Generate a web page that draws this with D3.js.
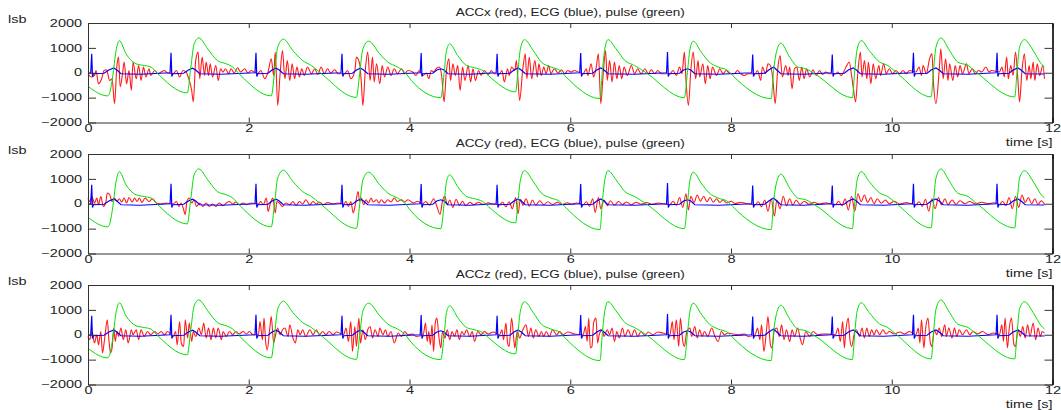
<!DOCTYPE html>
<html>
<head>
<meta charset="utf-8">
<script src="https://cdn.jsdelivr.net/npm/d3@7"></script>
<style>
  body { margin: 0; background: #fff; }
  svg text { font-family: "Liberation Sans", Arial, sans-serif; }
</style>
</head>
<body>
<svg id="chart" width="1061" height="410"></svg>
<script>
const xTicks = [0, 2, 4, 6, 8, 10, 12];
const yTicks = [-2000, -1000, 0, 1000, 2000];
const titles = ["ACCx (red), ECG (blue), pulse (green)", "ACCy (red), ECG (blue), pulse (green)", "ACCz (red), ECG (blue), pulse (green)"];

// pulse (green), [time s, lsb]
const pulse = [[0,-550],[0.245,-930],[0.266,-840],[0.307,-170],[0.349,890],[0.39,1290],[0.473,760],[0.598,360],[0.70,290],[0.784,230],[0.846,30],[1.235,-810],[1.28,230],[1.32,1160],[1.378,1400],[1.49,960],[1.61,490],[1.72,360],[1.80,230],[1.88,-40],[2.28,-930],[2.32,-40],[2.36,1030],[2.43,1350],[2.55,890],[2.67,490],[2.78,290],[2.88,30],[3.34,-990],[3.38,-40],[3.42,960],[3.49,1270],[3.63,760],[3.73,430],[3.85,230],[3.94,30],[4.02,-300],[4.39,-1000],[4.43,-40],[4.46,890],[4.50,1160],[4.60,690],[4.71,290],[4.81,200],[4.91,90],[4.98,-110],[5.32,-770],[5.35,90],[5.38,960],[5.43,1330],[5.54,890],[5.64,430],[5.76,230],[5.87,90],[5.93,-110],[6.37,-1040],[6.40,90],[6.43,960],[6.47,1330],[6.57,960],[6.68,490],[6.80,290],[6.93,30],[7.42,-1000],[7.46,90],[7.49,960],[7.53,1270],[7.63,830],[7.73,430],[7.84,230],[7.96,90],[8.02,-110],[8.50,-1040],[8.53,90],[8.57,890],[8.62,1190],[8.73,630],[8.83,230],[8.93,160],[9.04,-40],[9.51,-1000],[9.54,90],[9.57,960],[9.62,1290],[9.72,890],[9.85,430],[9.95,290],[10.05,30],[10.49,-970],[10.52,90],[10.55,1030],[10.61,1400],[10.72,890],[10.82,430],[10.95,290],[11.05,30],[11.53,-970],[11.56,90],[11.59,1030],[11.65,1330],[11.76,890],[11.86,360],[11.90,230]];

// ECG (blue)
const ecg = [[0,-20],[0.034,0],[0.046,760],[0.056,-150],[0.068,-40],[0.2,-20],[0.26,110],[0.32,190],[0.36,110],[0.41,-40],[0.65,-60],
  [1.021,0],[1.033,800],[1.043,-150],[1.055,-40],[1.19,-20],[1.25,110],[1.30,180],[1.34,110],[1.39,-40],[1.65,-60],
  [2.078,0],[2.09,800],[2.10,-150],[2.112,-40],[2.24,-20],[2.29,110],[2.34,180],[2.38,110],[2.43,-40],[2.7,-60],
  [3.148,0],[3.16,760],[3.17,-150],[3.182,-40],[3.29,-20],[3.34,110],[3.39,180],[3.43,110],[3.48,-40],[3.75,-60],
  [4.133,0],[4.145,790],[4.155,-150],[4.167,-40],[4.29,-20],[4.34,110],[4.39,160],[4.43,110],[4.48,-40],[4.75,-60],
  [5.078,0],[5.09,760],[5.10,-150],[5.112,-40],[5.25,-20],[5.30,110],[5.35,190],[5.39,110],[5.44,-40],[5.75,-60],
  [6.118,0],[6.13,790],[6.14,-150],[6.152,-40],[6.28,-20],[6.33,110],[6.38,190],[6.42,110],[6.47,-40],[6.8,-60],
  [7.198,0],[7.21,830],[7.22,-150],[7.232,-40],[7.36,-20],[7.41,110],[7.46,160],[7.50,110],[7.55,-40],[7.85,-60],
  [8.258,0],[8.27,730],[8.28,-150],[8.292,-40],[8.42,-20],[8.47,110],[8.53,230],[8.57,110],[8.62,-40],[8.9,-60],
  [9.248,0],[9.26,730],[9.27,-150],[9.282,-40],[9.41,-20],[9.46,110],[9.52,190],[9.56,110],[9.61,-40],[9.9,-60],
  [10.258,0],[10.27,800],[10.28,-150],[10.292,-40],[10.44,-20],[10.49,110],[10.55,190],[10.59,110],[10.64,-40],[10.95,-60],
  [11.298,0],[11.31,800],[11.32,-150],[11.332,-40],[11.46,-20],[11.51,110],[11.57,190],[11.61,110],[11.66,-40],[11.9,-50]];

// ACCx (red)
const accX = [[0.00,-40],[0.04,-170],[0.08,-110],[0.10,90],[0.13,-440],[0.17,-240],[0.20,90],[0.23,120],[0.27,-310],[0.30,-240],[0.33,-1240],[0.36,290],[0.38,630],[0.40,-570],[0.43,-40],[0.45,430],[0.48,-440],[0.51,90],[0.54,-710],[0.56,430],[0.60,-240],[0.63,290],[0.66,-310],[0.69,230],[0.72,-170],[0.76,160],[0.78,-110],[0.83,90],[0.87,-40],[0.91,30],[0.95,90],[0.99,-10],
  [1.06,-40],[1.10,90],[1.14,-170],[1.18,90],[1.22,30],[1.26,-310],[1.29,-710],[1.31,-1170],[1.34,490],[1.37,830],[1.39,-240],[1.42,630],[1.45,-110],[1.47,430],[1.50,-110],[1.52,360],[1.55,-170],[1.59,290],[1.62,-310],[1.65,160],[1.68,30],[1.71,160],[1.75,-40],[1.78,160],[1.82,-10],[1.86,200],[1.90,30],[1.95,160],[1.99,-10],[2.03,90],
  [2.11,-40],[2.15,90],[2.20,-240],[2.24,30],[2.28,560],[2.31,-110],[2.33,830],[2.36,-1310],[2.39,-40],[2.42,890],[2.45,-240],[2.48,490],[2.51,-310],[2.54,360],[2.57,-240],[2.60,230],[2.63,-170],[2.66,160],[2.69,-110],[2.73,230],[2.78,-40],[2.82,160],[2.86,-70],[2.90,230],[2.94,-40],[2.98,160],[3.02,-10],[3.07,120],[3.11,-40],
  [3.19,-40],[3.23,90],[3.27,-240],[3.32,90],[3.34,630],[3.38,360],[3.40,-370],[3.42,-1310],[3.45,90],[3.48,830],[3.51,-310],[3.54,630],[3.56,-370],[3.59,360],[3.63,-440],[3.66,290],[3.69,-170],[3.73,230],[3.77,-110],[3.81,160],[3.85,-40],[3.90,160],[3.94,-40],[3.98,90],
  [4.04,30],[4.08,-110],[4.12,90],[4.17,-110],[4.21,-10],[4.24,-240],[4.27,90],[4.30,30],[4.33,160],[4.37,230],[4.40,-110],[4.43,-1170],[4.46,90],[4.49,560],[4.51,-310],[4.54,360],[4.57,-110],[4.60,290],[4.63,-710],[4.66,230],[4.69,-310],[4.73,290],[4.76,-370],[4.79,160],[4.82,-310],[4.86,90],[4.89,-110],[4.93,90],[4.98,-70],[5.02,90],[5.05,-40],
  [5.12,-40],[5.15,90],[5.18,-370],[5.22,160],[5.24,-110],[5.27,230],[5.31,90],[5.33,490],[5.35,-310],[5.37,-1110],[5.41,160],[5.44,760],[5.46,-240],[5.49,630],[5.52,-240],[5.56,490],[5.59,-170],[5.61,360],[5.64,-110],[5.67,230],[5.70,-40],[5.73,290],[5.76,-40],[5.80,160],[5.85,-10],[5.89,120],[5.93,-40],[5.97,90],[6.01,30],[6.05,90],
  [6.16,-40],[6.20,160],[6.22,-110],[6.26,360],[6.29,-170],[6.32,160],[6.35,760],[6.38,-1240],[6.41,-40],[6.44,890],[6.46,-310],[6.49,490],[6.52,-370],[6.55,430],[6.58,-240],[6.61,290],[6.64,-240],[6.67,230],[6.71,-110],[6.76,290],[6.80,-40],[6.84,160],[6.88,-40],[6.93,160],[6.97,-40],[7.01,120],[7.05,-40],[7.09,90],[7.13,-40],
  [7.24,-40],[7.28,90],[7.32,-110],[7.36,230],[7.39,-40],[7.42,830],[7.44,-310],[7.47,-1310],[7.50,90],[7.53,830],[7.56,-240],[7.59,490],[7.61,-170],[7.65,360],[7.68,-440],[7.71,290],[7.74,-240],[7.77,230],[7.82,-110],[7.86,160],[7.90,-40],[7.94,90],[7.98,-10],
  [8.04,-40],[8.08,90],[8.12,-40],[8.17,-110],[8.21,-40],
  [8.30,-40],[8.33,90],[8.37,-310],[8.39,230],[8.43,-40],[8.46,360],[8.49,290],[8.52,-240],[8.55,-1240],[8.58,90],[8.61,690],[8.64,-170],[8.68,290],[8.71,-110],[8.73,230],[8.76,-640],[8.79,160],[8.82,230],[8.85,-310],[8.88,230],[8.91,-240],[8.94,160],[8.98,-170],[9.02,120],[9.06,-110],[9.10,90],[9.14,-70],[9.18,30],[9.22,-40],
  [9.30,-40],[9.33,30],[9.37,-110],[9.41,90],[9.44,290],[9.47,430],[9.50,-110],[9.52,-570],[9.55,-1170],[9.58,90],[9.61,830],[9.63,-170],[9.66,490],[9.69,-240],[9.71,430],[9.74,-440],[9.77,360],[9.80,-240],[9.84,290],[9.86,-110],[9.90,360],[9.93,-40],[9.97,160],[10.01,-40],[10.05,90],[10.10,-40],[10.14,90],[10.18,-40],[10.22,90],
  [10.30,30],[10.34,230],[10.37,-110],[10.39,290],[10.43,-40],[10.47,560],[10.50,760],[10.52,-440],[10.55,-1240],[10.59,90],[10.61,960],[10.64,-240],[10.67,560],[10.70,-310],[10.72,360],[10.76,-310],[10.79,290],[10.82,-170],[10.85,290],[10.88,-40],[10.93,360],[10.96,-40],[11.00,160],[11.04,-40],[11.08,90],[11.12,30],[11.17,230],[11.21,30],[11.24,90],
  [11.34,30],[11.37,230],[11.40,-170],[11.43,630],[11.45,-240],[11.48,290],[11.51,-110],[11.54,830],[11.57,-310],[11.59,-1170],[11.62,90],[11.65,760],[11.68,-310],[11.71,290],[11.73,-240],[11.76,430],[11.78,-310],[11.81,360],[11.84,-110],[11.88,290],[11.90,-240]];

// ACCy (red)
const accY = [[0.00,230],[0.02,90],[0.05,290],[0.08,30],[0.11,230],[0.13,-40],[0.16,290],[0.19,-110],[0.22,30],[0.24,430],[0.27,360],[0.30,90],[0.33,230],[0.36,90],[0.39,200],[0.42,70],[0.45,230],[0.48,30],[0.51,250],[0.55,70],[0.58,230],[0.61,90],[0.64,230],[0.67,50],[0.71,230],[0.76,90],[0.80,200],[0.85,30],[0.91,-10],[0.97,30],
  [1.06,-10],[1.10,90],[1.13,-110],[1.16,30],[1.19,-240],[1.21,-440],[1.23,90],[1.26,230],[1.29,30],[1.32,160],[1.35,-110],[1.39,30],[1.43,-110],[1.47,30],[1.51,-110],[1.55,-10],[1.59,-110],[1.63,30],[1.68,-70],[1.72,30],[1.76,90],[1.80,-10],[1.84,70],[1.88,-40],[1.93,30],[1.97,-40],[2.03,30],
  [2.12,-10],[2.15,90],[2.18,-40],[2.22,230],[2.24,-310],[2.27,30],[2.30,230],[2.33,-370],[2.35,90],[2.38,30],[2.42,-110],[2.46,30],[2.51,-40],[2.55,90],[2.59,-70],[2.63,90],[2.67,-10],[2.71,160],[2.76,-40],[2.80,90],[2.84,-10],[2.88,70],[2.93,-40],[2.98,50],[3.05,-10],[3.11,30],
  [3.18,-10],[3.21,90],[3.24,-110],[3.27,90],[3.30,-370],[3.33,30],[3.36,490],[3.38,90],[3.40,230],[3.43,-40],[3.46,160],[3.49,30],[3.52,230],[3.55,70],[3.59,160],[3.62,30],[3.65,160],[3.69,30],[3.73,160],[3.77,70],[3.81,230],[3.85,90],[3.90,160],[3.94,70],[3.98,160],
  [4.05,30],[4.10,100],[4.16,-20],[4.20,90],[4.25,-60],[4.30,200],[4.34,-100],[4.38,-430],[4.41,100],[4.44,300],[4.47,-50],[4.50,150],[4.54,-150],[4.58,180],[4.62,-60],[4.66,100],[4.70,-80],[4.75,60],[4.80,-40],[4.86,60],[4.92,-30],[4.98,40],[5.04,-20],
  [5.12,-30],[5.16,60],[5.20,-120],[5.24,80],[5.28,-200],[5.32,250],[5.35,-400],[5.38,180],[5.41,-60],[5.45,200],[5.49,-100],[5.53,150],[5.57,-60],[5.62,120],[5.67,-40],[5.72,80],[5.78,-30],[5.84,60],[5.90,-30],[5.96,40],[6.02,-20],[6.08,30],
  [6.16,-40],[6.20,80],[6.24,-100],[6.28,200],[6.31,-350],[6.35,250],[6.38,-200],[6.42,150],[6.46,-80],[6.50,120],[6.55,-60],[6.60,90],[6.65,-30],[6.70,70],[6.76,-40],[6.82,60],[6.88,-20],[6.95,50],[7.02,-20],[7.10,30],[7.16,-10],
  [7.24,-30],[7.28,100],[7.32,-60],[7.36,250],[7.40,-150],[7.44,400],[7.47,-250],[7.50,300],[7.54,50],[7.58,350],[7.62,100],[7.66,300],[7.70,80],[7.74,250],[7.78,60],[7.82,200],[7.86,50],[7.90,150],[7.95,30],[8.00,100],[8.05,10],[8.12,60],[8.20,0],
  [8.30,-40],[8.34,80],[8.38,-120],[8.42,150],[8.46,-300],[8.50,200],[8.54,-500],[8.57,150],[8.61,-200],[8.65,300],[8.69,-80],[8.73,200],[8.77,-60],[8.81,150],[8.86,-30],[8.91,100],[8.97,-20],[9.03,60],[9.10,-10],[9.18,40],[9.24,-10],
  [9.30,-30],[9.34,100],[9.38,-80],[9.42,200],[9.46,-250],[9.50,300],[9.54,-300],[9.58,400],[9.62,80],[9.66,350],[9.70,50],[9.74,250],[9.78,0],[9.82,200],[9.87,20],[9.92,150],[9.97,0],[10.03,100],[10.10,-10],[10.18,50],[10.24,0],
  [10.30,-30],[10.34,80],[10.38,-100],[10.42,180],[10.46,-300],[10.50,200],[10.54,-200],[10.58,250],[10.62,-50],[10.66,200],[10.70,-40],[10.75,150],[10.80,-20],[10.85,120],[10.91,0],[10.97,90],[11.04,-10],[11.12,60],[11.20,0],[11.27,40],
  [11.34,-30],[11.38,100],[11.42,-80],[11.46,250],[11.50,-200],[11.54,300],[11.58,-150],[11.62,350],[11.66,50],[11.70,250],[11.74,0],[11.78,200],[11.82,-30],[11.86,120],[11.90,-20]];

// ACCz (red)
const accZ = [[0.00,-70],[0.02,-200],[0.05,130],[0.08,-330],[0.11,0],[0.13,-400],[0.16,130],[0.18,-730],[0.21,-70],[0.24,600],[0.26,-200],[0.28,-730],[0.30,-530],[0.32,270],[0.34,-270],[0.36,130],[0.38,-70],[0.41,270],[0.44,-200],[0.47,200],[0.50,-330],[0.54,200],[0.56,0],[0.60,200],[0.63,-200],[0.66,200],[0.70,-70],[0.74,130],[0.78,0],[0.83,130],[0.87,30],[0.91,130],[0.95,0],[0.99,130],
  [1.06,-70],[1.09,130],[1.11,-400],[1.14,530],[1.16,-330],[1.19,-470],[1.21,600],[1.24,-130],[1.26,470],[1.29,-270],[1.31,130],[1.34,-70],[1.38,270],[1.41,0],[1.44,470],[1.47,-130],[1.50,270],[1.53,-200],[1.56,270],[1.59,-130],[1.62,270],[1.66,-200],[1.68,130],[1.72,-70],[1.76,130],[1.80,0],[1.84,130],[1.88,30],[1.93,130],[1.97,30],[2.01,130],[2.05,0],
  [2.12,0],[2.14,530],[2.17,-200],[2.19,670],[2.21,-270],[2.23,-600],[2.26,200],[2.28,730],[2.31,-330],[2.33,-70],[2.36,270],[2.39,0],[2.42,200],[2.45,270],[2.49,-70],[2.51,400],[2.55,-130],[2.58,-330],[2.61,200],[2.64,0],[2.67,200],[2.71,-70],[2.76,200],[2.80,0],[2.84,200],[2.88,0],[2.92,130],[2.96,0],[3.00,130],[3.05,0],[3.09,110],
  [3.18,0],[3.21,270],[3.24,-270],[3.27,530],[3.29,-670],[3.32,330],[3.34,-470],[3.37,670],[3.39,-330],[3.42,200],[3.45,-200],[3.48,200],[3.51,330],[3.54,-130],[3.57,200],[3.61,-70],[3.63,270],[3.67,0],[3.70,200],[3.73,-70],[3.77,130],[3.81,-330],[3.86,70],[3.90,-70],[3.94,130],[3.98,0],
  [4.04,30],[4.08,-70],
  [4.17,0],[4.20,470],[4.22,-270],[4.24,130],[4.26,-400],[4.28,400],[4.30,-670],[4.32,470],[4.34,670],[4.37,-200],[4.39,-530],[4.41,130],[4.44,-130],[4.47,200],[4.50,-200],[4.53,130],[4.56,-70],[4.59,200],[4.62,-200],[4.65,130],[4.68,0],[4.71,200],[4.75,-70],[4.78,130],[4.81,-270],[4.85,130],[4.89,0],[4.93,130],[4.98,30],[5.04,110],
  [5.12,0],[5.15,200],[5.17,-200],[5.20,470],[5.22,-330],[5.24,-470],[5.27,670],[5.30,-270],[5.31,-530],[5.34,130],[5.37,-130],[5.41,200],[5.45,400],[5.48,-70],[5.51,270],[5.54,-130],[5.57,200],[5.61,-70],[5.64,130],[5.67,-70],[5.70,130],[5.74,-70],[5.78,200],[5.83,0],[5.87,130],[5.91,0],[5.97,110],[6.05,30],
  [6.16,0],[6.19,330],[6.21,-270],[6.23,670],[6.25,-530],[6.27,-470],[6.29,470],[6.32,670],[6.34,-330],[6.36,0],[6.40,200],[6.42,-70],[6.46,200],[6.49,0],[6.52,270],[6.55,-270],[6.58,130],[6.61,-130],[6.65,270],[6.68,-70],[6.72,200],[6.76,-70],[6.80,200],[6.84,-70],[6.88,130],[6.93,-30],[6.97,110],[7.03,0],[7.09,110],[7.15,70],
  [7.24,0],[7.27,530],[7.29,-200],[7.32,600],[7.35,-470],[7.37,670],[7.40,-270],[7.42,-470],[7.45,130],[7.49,270],[7.51,-70],[7.55,330],[7.58,-130],[7.61,200],[7.64,-70],[7.67,130],[7.71,-70],[7.76,270],[7.80,-70],[7.84,-270],[7.88,130],[7.92,0],[7.96,70],[8.02,30],
  [8.10,0],[8.17,30],[8.21,-70],
  [8.30,0],[8.33,270],[8.36,-200],[8.38,400],[8.41,-670],[8.44,130],[8.46,730],[8.49,-400],[8.51,-530],[8.54,200],[8.57,270],[8.60,-70],[8.63,400],[8.66,-200],[8.69,200],[8.73,-270],[8.76,200],[8.79,-70],[8.83,270],[8.86,-130],[8.89,-400],[8.93,130],[8.98,-70],[9.02,130],[9.08,0],[9.14,30],[9.20,30],
  [9.30,0],[9.33,270],[9.36,-270],[9.39,530],[9.41,-530],[9.43,200],[9.46,670],[9.48,-200],[9.50,-470],[9.54,130],[9.56,200],[9.60,-70],[9.63,270],[9.66,-130],[9.69,270],[9.72,-70],[9.75,200],[9.78,0],[9.81,200],[9.85,0],[9.89,200],[9.93,30],[9.97,130],[10.03,30],[10.10,110],[10.16,30],[10.22,130],
  [10.30,0],[10.33,270],[10.35,-330],[10.37,600],[10.40,-530],[10.42,200],[10.45,670],[10.48,-330],[10.50,-470],[10.53,200],[10.56,0],[10.59,270],[10.62,-70],[10.66,400],[10.68,-70],[10.71,270],[10.75,-130],[10.78,270],[10.81,-70],[10.84,200],[10.88,0],[10.93,200],[10.97,0],[11.01,130],[11.07,30],[11.13,130],[11.20,0],[11.26,70],
  [11.34,0],[11.37,400],[11.39,-270],[11.41,670],[11.44,-530],[11.46,200],[11.49,670],[11.52,-400],[11.54,-470],[11.57,200],[11.60,-70],[11.63,330],[11.66,-130],[11.69,400],[11.72,-70],[11.76,470],[11.79,-200],[11.82,270],[11.85,-70],[11.87,130],[11.90,70]];

const accs = [accX, accY, accZ];

const left = 88, right = 1052.5, plotH = 99.5;
const tops = [23, 154, 285];
const sx = 1.45; // reference text is stretched horizontally

const svg = d3.select("#chart");
const x = d3.scaleLinear().domain([0, 12]).range([left, right]);

accs.forEach((acc, i) => {
    const top = tops[i];
    const y = d3.scaleLinear().domain([-2000, 2000]).range([top + plotH, top]);
    const line = d3.line().x(d => x(d[0])).y(d => y(d[1]));
    const smooth = d3.line().x(d => x(d[0])).y(d => y(d[1])).curve(d3.curveMonotoneX);
    const g = svg.append("g");

    g.append("path").datum(acc)
        .attr("fill", "none").attr("stroke", "#ff1a1a").attr("stroke-width", 1.1)
        .attr("d", smooth);
    g.append("path").datum(ecg)
        .attr("fill", "none").attr("stroke", "#0000ff").attr("stroke-width", 1.2)
        .attr("d", line);
    g.append("path").datum(pulse)
        .attr("fill", "none").attr("stroke", "#00e000").attr("stroke-width", 1)
        .attr("d", smooth);

    // frame + ticks pointing inwards
    const axes = [
        g.append("g").attr("transform", `translate(0,${top + plotH})`)
            .call(d3.axisBottom(x).tickValues(xTicks).tickSizeInner(-5).tickSizeOuter(0).tickPadding(2)),
        g.append("g").attr("transform", `translate(0,${top})`)
            .call(d3.axisTop(x).tickValues(xTicks).tickSizeInner(-5).tickSizeOuter(0).tickFormat("")),
        g.append("g").attr("transform", `translate(${left},0)`)
            .call(d3.axisLeft(y).tickValues(yTicks).tickFormat(d3.format("d")).tickSizeInner(-8).tickSizeOuter(0).tickPadding(4.1)),
        g.append("g").attr("transform", `translate(${right},0)`)
            .call(d3.axisRight(y).tickValues(yTicks).tickSizeInner(-8).tickSizeOuter(0).tickFormat(""))
    ];
    axes.forEach(a => {
        a.attr("color", "#333").attr("font-family", null).attr("font-size", 10);
        a.selectAll("text").attr("fill", "#222").attr("transform", `scale(${sx},1)`);
    });
    axes[3].select(".domain").attr("stroke", "#000").attr("stroke-width", 1.6);

    g.append("text")
        .attr("transform", `translate(${(left + right) / 2},${top - 7}) scale(1.35,1)`)
        .attr("text-anchor", "middle").attr("font-size", 10).attr("fill", "#222")
        .text(titles[i]);
    g.append("text")
        .attr("transform", `translate(8,${top - 0.5}) scale(${sx},1)`)
        .attr("font-size", 10).attr("fill", "#222")
        .text("lsb");
    g.append("text")
        .attr("transform", `translate(${right},${top + plotH + 23}) scale(${sx},1)`)
        .attr("text-anchor", "end").attr("font-size", 10).attr("fill", "#222")
        .text("time [s]");
});
</script>
</body>
</html>
